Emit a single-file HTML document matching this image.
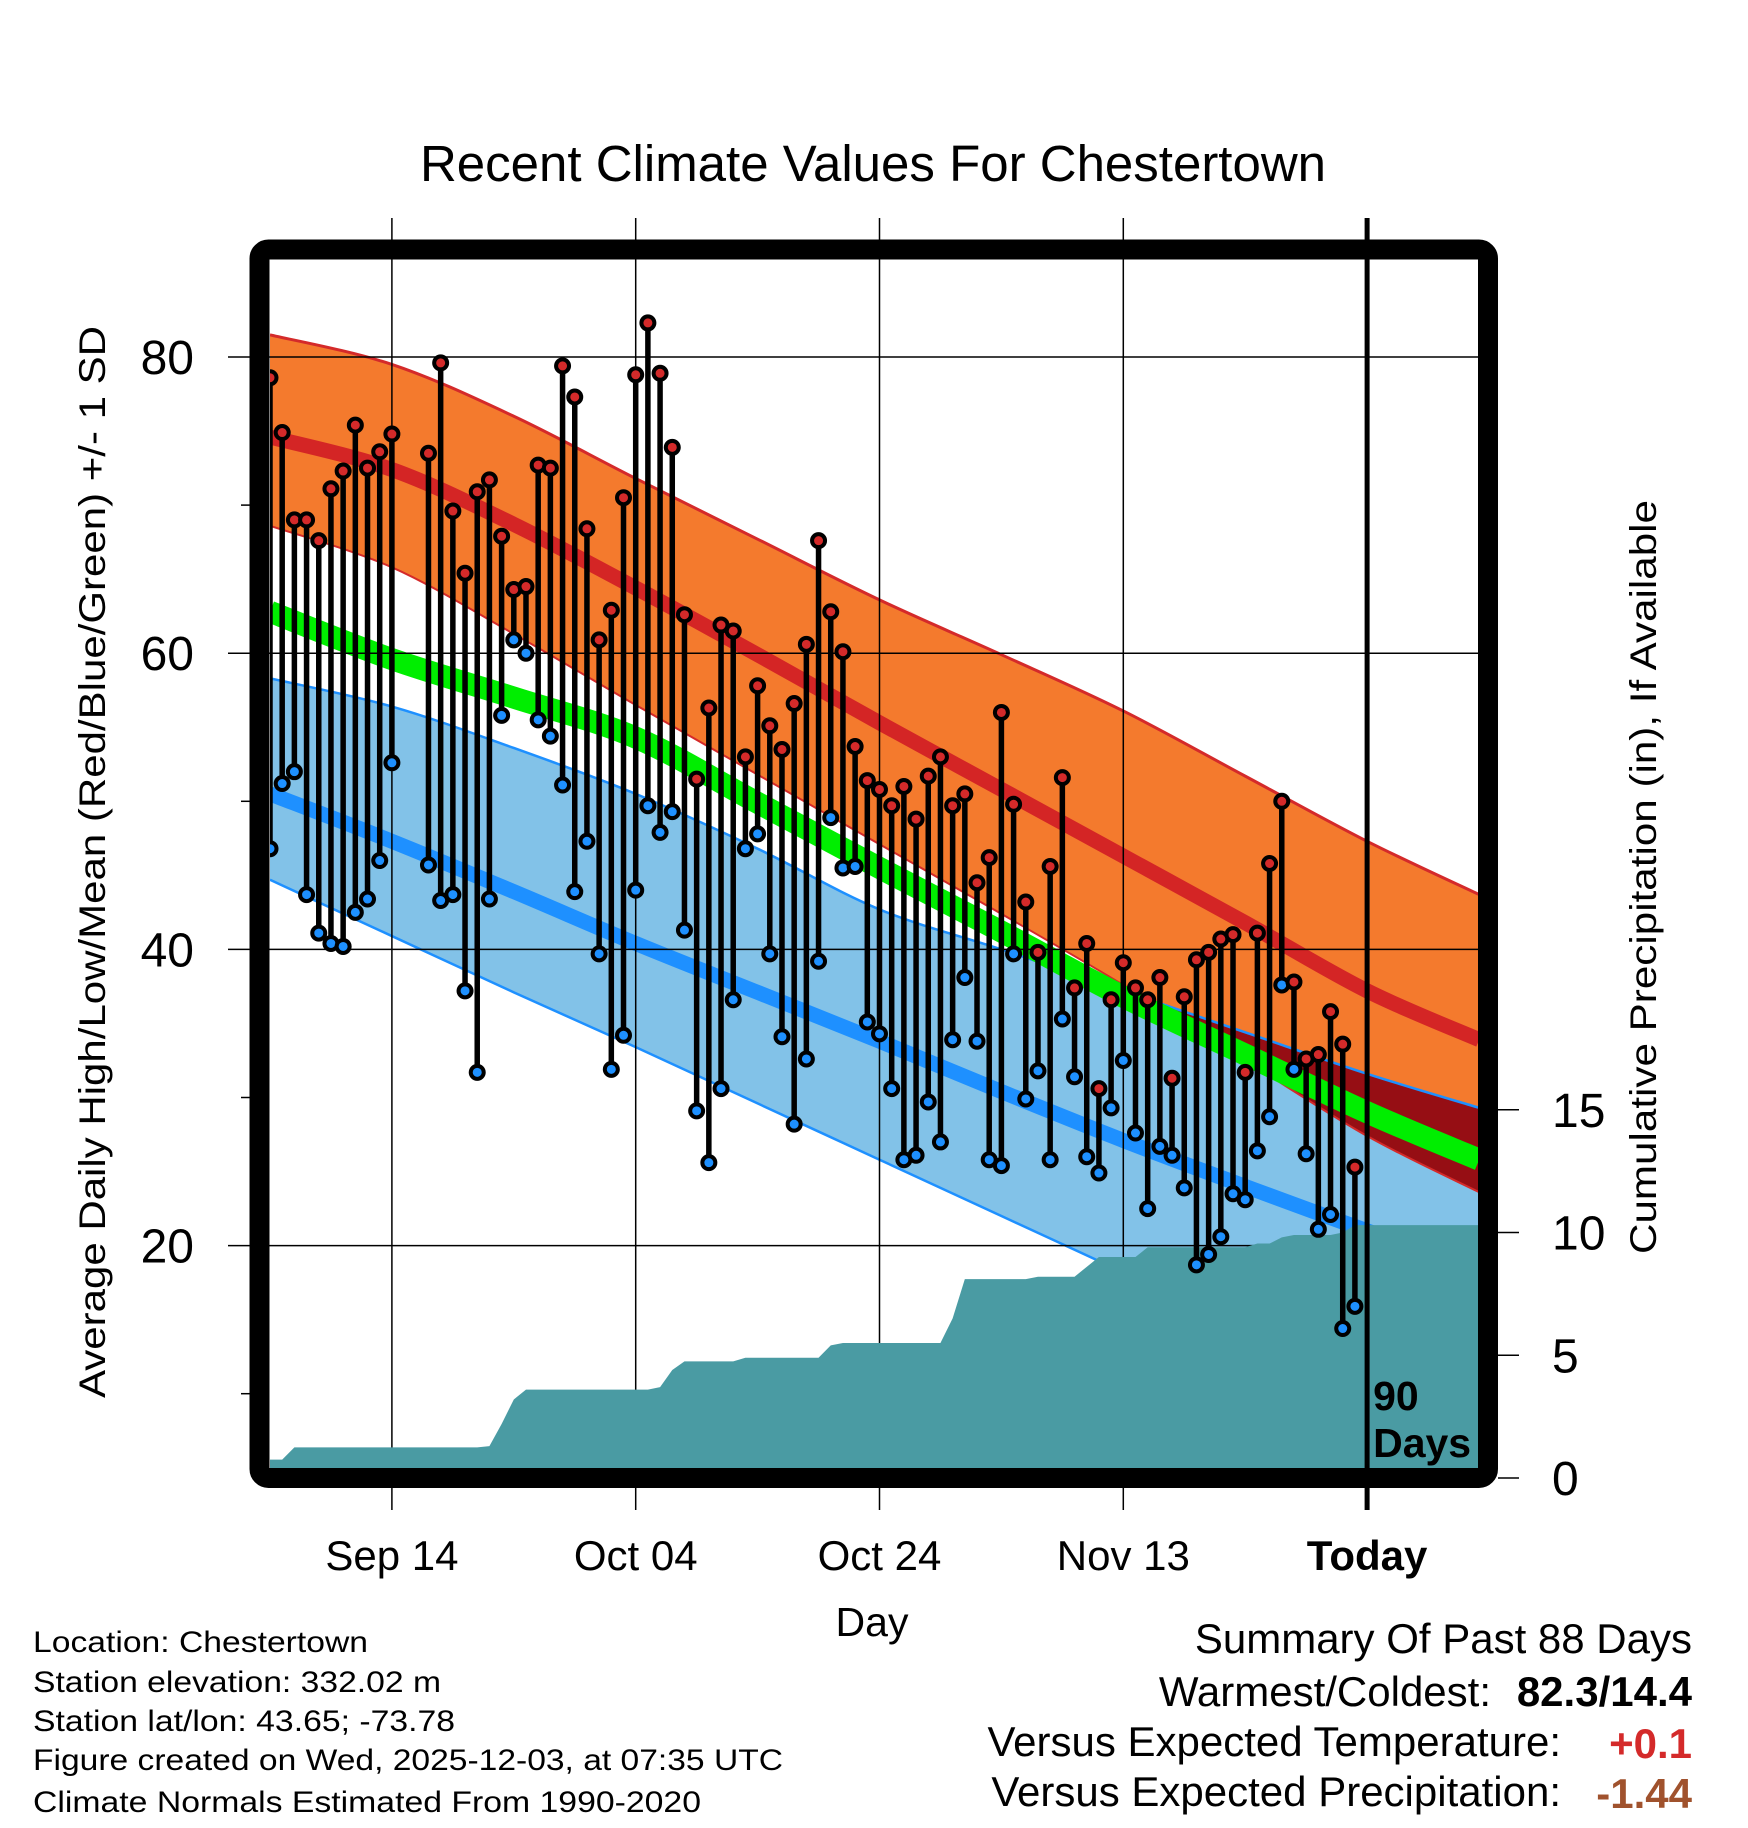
<!DOCTYPE html>
<html><head><meta charset="utf-8"><style>
html,body{margin:0;padding:0;background:#fff;}
svg{display:block;font-family:"Liberation Sans",sans-serif;}
</style></head><body>
<svg id="chart" width="1748" height="1828" viewBox="0 0 1748 1828" xmlns="http://www.w3.org/2000/svg">
<defs>
<clipPath id="plotclip"><rect x="270" y="260" width="1208" height="1208"/></clipPath>
<clipPath id="lowclip"><path id="lowclipPath" d=""/></clipPath>
</defs>
<text x="873" y="181" font-size="51" text-anchor="middle">Recent Climate Values For Chestertown</text>
<g id="bands" clip-path="url(#plotclip)"></g>
<g id="grid"></g>
<g id="precip" clip-path="url(#plotclip)"></g>
<g id="obs" clip-path="url(#plotclip)"></g>
<g id="overlay"></g>
<rect x="259.5" y="249.5" width="1228.5" height="1228.5" rx="9" fill="none" stroke="#000" stroke-width="20"/>
<g id="axes"></g>
<text transform="translate(105,862) rotate(-90)" font-size="37" text-anchor="middle" textLength="1072" lengthAdjust="spacingAndGlyphs">Average Daily High/Low/Mean (Red/Blue/Green) +/- 1 SD</text>
<text transform="translate(1656,877) rotate(-90)" font-size="37" text-anchor="middle" textLength="754" lengthAdjust="spacingAndGlyphs">Cumulative Precipitation (in), If Available</text>
<text x="872" y="1636" font-size="41" text-anchor="middle">Day</text>
<g font-size="30">
<text x="33" y="1652" textLength="335" lengthAdjust="spacingAndGlyphs">Location: Chestertown</text>
<text x="33" y="1692" textLength="408" lengthAdjust="spacingAndGlyphs">Station elevation: 332.02 m</text>
<text x="33" y="1731" textLength="422" lengthAdjust="spacingAndGlyphs">Station lat/lon: 43.65; -73.78</text>
<text x="33" y="1770" textLength="750" lengthAdjust="spacingAndGlyphs">Figure created on Wed, 2025-12-03, at 07:35 UTC</text>
<text x="33" y="1812" textLength="668" lengthAdjust="spacingAndGlyphs">Climate Normals Estimated From 1990-2020</text>
</g>
<g font-size="42">
<text x="1692" y="1653" text-anchor="end">Summary Of Past 88 Days</text>
<text x="1491" y="1706" text-anchor="end">Warmest/Coldest:</text>
<text x="1692" y="1706" text-anchor="end" font-weight="bold">82.3/14.4</text>
<text x="1561" y="1756" text-anchor="end">Versus Expected Temperature:</text>
<text x="1692" y="1758" text-anchor="end" font-weight="bold" fill="#D42A2A">+0.1</text>
<text x="1561" y="1806" text-anchor="end">Versus Expected Precipitation:</text>
<text x="1692" y="1808" text-anchor="end" font-weight="bold" fill="#A0522D">-1.44</text>
</g>
</svg>
<script>
var highs=[78.6,74.9,69.0,69.0,67.6,71.1,72.3,75.4,72.5,73.6,74.8,null,null,73.5,79.6,69.6,65.4,70.9,71.7,67.9,64.3,64.5,72.7,72.5,79.4,77.3,68.4,60.9,62.9,70.5,78.8,82.3,78.9,73.9,62.6,51.5,56.3,61.9,61.5,53.0,57.8,55.1,53.5,56.6,60.6,67.6,62.8,60.1,53.7,51.4,50.8,49.7,51.0,48.8,51.7,53.0,49.7,50.5,44.5,46.2,56.0,49.8,43.2,39.8,45.6,51.6,37.4,40.4,30.6,36.6,39.1,37.4,36.6,38.1,31.3,36.8,39.3,39.8,40.7,41.0,31.7,41.1,45.8,50.0,37.8,32.6,32.9,35.8,33.6,25.3];
var lows=[46.8,51.2,52.0,43.7,41.1,40.4,40.2,42.5,43.4,46.0,52.6,null,null,45.7,43.3,43.7,37.2,31.7,43.4,55.8,60.9,60.0,55.5,54.4,51.1,43.9,47.3,39.7,31.9,34.2,44.0,49.7,47.9,49.3,41.3,29.1,25.6,30.6,36.6,46.8,47.8,39.7,34.1,28.2,32.6,39.2,48.9,45.5,45.6,35.1,34.3,30.6,25.8,26.1,29.7,27.0,33.9,38.1,33.8,25.8,25.4,39.7,29.9,31.8,25.8,35.3,31.4,26.0,24.9,29.3,32.5,27.6,22.5,26.7,26.1,23.9,18.7,19.4,20.6,23.5,23.1,26.4,28.7,37.6,31.9,26.2,21.1,22.1,14.4,15.9];
var precipCum=[0.75,0.75,1.25,1.25,1.25,1.25,1.25,1.25,1.25,1.25,1.25,1.25,1.25,1.25,1.25,1.25,1.25,1.25,1.3,2.2,3.2,3.6,3.6,3.6,3.6,3.6,3.6,3.6,3.6,3.6,3.6,3.6,3.7,4.4,4.75,4.75,4.75,4.75,4.75,4.9,4.9,4.9,4.9,4.9,4.9,4.9,5.4,5.5,5.5,5.5,5.5,5.5,5.5,5.5,5.5,5.5,6.5,8.1,8.1,8.1,8.1,8.1,8.1,8.2,8.2,8.2,8.2,8.6,9.0,9.0,9.0,9.0,9.4,9.4,9.4,9.4,9.4,9.4,9.4,9.4,9.4,9.55,9.55,9.8,9.9,9.9,9.9,9.9,10.0,10.3];
var normDays=[0,10,20,30,40,50,60,70,80,90,99.2];
var highPlusSD=[81.5,79.5,76.0,71.8,67.7,63.6,59.9,56.1,51.7,47.3,43.7];
var highMean=[74.6,72.4,68.7,64.4,59.9,55.3,50.8,46.3,41.8,37.2,33.9];
var highMinusSD=[68.6,65.8,61.3,56.5,51.8,47.1,42.4,37.6,32.5,27.4,23.6];
var meanTemp=[62.8,59.6,57.0,54.3,49.9,45.5,41.2,36.8,32.9,29.0,25.8];
var lowPlusSD=[58.3,56.4,53.6,50.5,46.8,42.7,40.0,37.2,34.4,31.6,29.3];
var lowMean=[50.5,47.3,43.9,40.4,37.1,33.8,30.4,27.1,24.0,21.0,18.5];
var lowMinusSD=[44.7,40.9,37.1,33.4,29.6,25.8,22.0,18.2,14.5,10.7,7.2];
var yTicks=[20,40,60,80];
var yMinor=[10,30,50,70];
var pTicks=[0,5,10,15];
var xTickDays=[10,30,50,70,90];
var xTickLabels=["Sep 14","Oct 04","Oct 24","Nov 13","Today"];

var NS="http://www.w3.org/2000/svg";
function X(d){return 270+d*12.19;}
function Y(t){return 357+(80-t)*14.81;}
function P(p){return 1478-p*24.55;}
function mk(tag,attrs,parent){var e=document.createElementNS(NS,tag);for(var k in attrs)e.setAttribute(k,attrs[k]);parent.appendChild(e);return e;}
function ptsArr(arr){return normDays.map(function(d,i){return [X(d),Y(arr[i])];});}
function smooth(p,start){
  var s=(start?"M":"L")+p[0][0]+","+p[0][1];
  for(var i=0;i<p.length-1;i++){
    var p0=p[i-1]||p[i],p1=p[i],p2=p[i+1],p3=p[i+2]||p2;
    var c1x=p1[0]+(p2[0]-p0[0])/6,c1y=p1[1]+(p2[1]-p0[1])/6;
    var c2x=p2[0]-(p3[0]-p1[0])/6,c2y=p2[1]-(p3[1]-p1[1])/6;
    s+=" C"+c1x+","+c1y+" "+c2x+","+c2y+" "+p2[0]+","+p2[1];
  }
  return s;
}
function line(arr){return smooth(ptsArr(arr),true);}
function band(top,bot){return smooth(ptsArr(top),true)+" "+smooth(ptsArr(bot).reverse(),false)+" Z";}

var bands=document.getElementById('bands');
document.getElementById('lowclipPath').setAttribute('d',band(lowPlusSD,lowMinusSD));
var e;
e=mk('path',{d:band(highPlusSD,highMinusSD),fill:'#F47A2D'},bands);


e=mk('path',{d:band(lowPlusSD,lowMinusSD),fill:'#82C2E8'},bands);


e=mk('path',{d:band(highPlusSD,highMinusSD),fill:'#960E14','clip-path':'url(#lowclip)'},bands);


e=mk('path',{d:line(highPlusSD),fill:'none',stroke:'#D42A2A','stroke-width':3},bands);


e=mk('path',{d:line(highMinusSD),fill:'none',stroke:'#D42A2A','stroke-width':2},bands);


e=mk('path',{d:line(lowPlusSD),fill:'none',stroke:'#1E90FF','stroke-width':2.5},bands);


e=mk('path',{d:line(lowMinusSD),fill:'none',stroke:'#1E90FF','stroke-width':2.5},bands);


e=mk('path',{d:line(highMean),fill:'none',stroke:'#D42525','stroke-width':15},bands);


e=mk('path',{d:line(lowMean),fill:'none',stroke:'#1E90FF','stroke-width':15},bands);


e=mk('path',{d:line(meanTemp),fill:'none',stroke:'#00EE00','stroke-width':22},bands);



var grid=document.getElementById('grid');
yTicks.forEach(function(t){
  var l=mk('line',{x1:228,x2:1478,y1:Y(t),y2:Y(t),stroke:'#000','stroke-width':1.5},grid);
  
  
});
xTickDays.forEach(function(d,i){
  if(i===4)return;
  var l=mk('line',{x1:X(d),x2:X(d),y1:218,y2:1510,stroke:'#000','stroke-width':1.5},grid);
  
  
});

var pg=document.getElementById('precip');
var pp=["270,1478"];
precipCum.forEach(function(v,i){pp.push(X(i)+","+P(v));});
pp.push("1478,"+P(precipCum[precipCum.length-1]));
pp.push("1478,1478");
e=mk('polygon',{points:pp.join(" "),fill:'#4A9BA3'},pg);



var og=document.getElementById('obs');
highs.forEach(function(h,i){
  if(h===null)return;
  var s=mk('line',{x1:X(i),x2:X(i),y1:Y(h),y2:Y(lows[i]),stroke:'#000','stroke-width':5.5},og);
  
  
});
highs.forEach(function(h,i){
  if(h===null)return;
  var c1=mk('circle',{cx:X(i),cy:Y(h),r:6.5,fill:'#D42A2A',stroke:'#000','stroke-width':4},og);
  
  
  var c2=mk('circle',{cx:X(i),cy:Y(lows[i]),r:6.5,fill:'#1E90FF',stroke:'#000','stroke-width':4},og);
  
  
});

var ov=document.getElementById('overlay');
e=mk('line',{x1:X(90),x2:X(90),y1:218,y2:1510,stroke:'#000','stroke-width':5},ov);


e=mk('text',{x:X(90)+6,y:1410,'font-size':41,'font-weight':'bold'},ov);
e.textContent="90";


e=mk('text',{x:X(90)+6,y:1457,'font-size':41,'font-weight':'bold'},ov);
e.textContent="Days";



var ax=document.getElementById('axes');
yTicks.forEach(function(t){
  var tx=mk('text',{x:194,y:Y(t)+17,'font-size':48,'text-anchor':'end'},ax);
  tx.textContent=t;
  
  
});
yMinor.forEach(function(t){
  var l=mk('line',{x1:241,x2:250,y1:Y(t),y2:Y(t),stroke:'#000','stroke-width':1.5},ax);
  
  
});
pTicks.forEach(function(p){
  var l=mk('line',{x1:1498,x2:1519,y1:P(p),y2:P(p),stroke:'#000','stroke-width':1.5},ax);
  
  
  var tx=mk('text',{x:1552,y:P(p)+17,'font-size':48},ax);
  tx.textContent=p;
  
  
});
xTickDays.forEach(function(d,i){
  var tx=mk('text',{x:X(d),y:1570,'font-size':42,'text-anchor':'middle'},ax);
  if(i===4)tx.setAttribute('font-weight','bold');
  tx.textContent=xTickLabels[i];
  
  
});
</script>
</body></html>
